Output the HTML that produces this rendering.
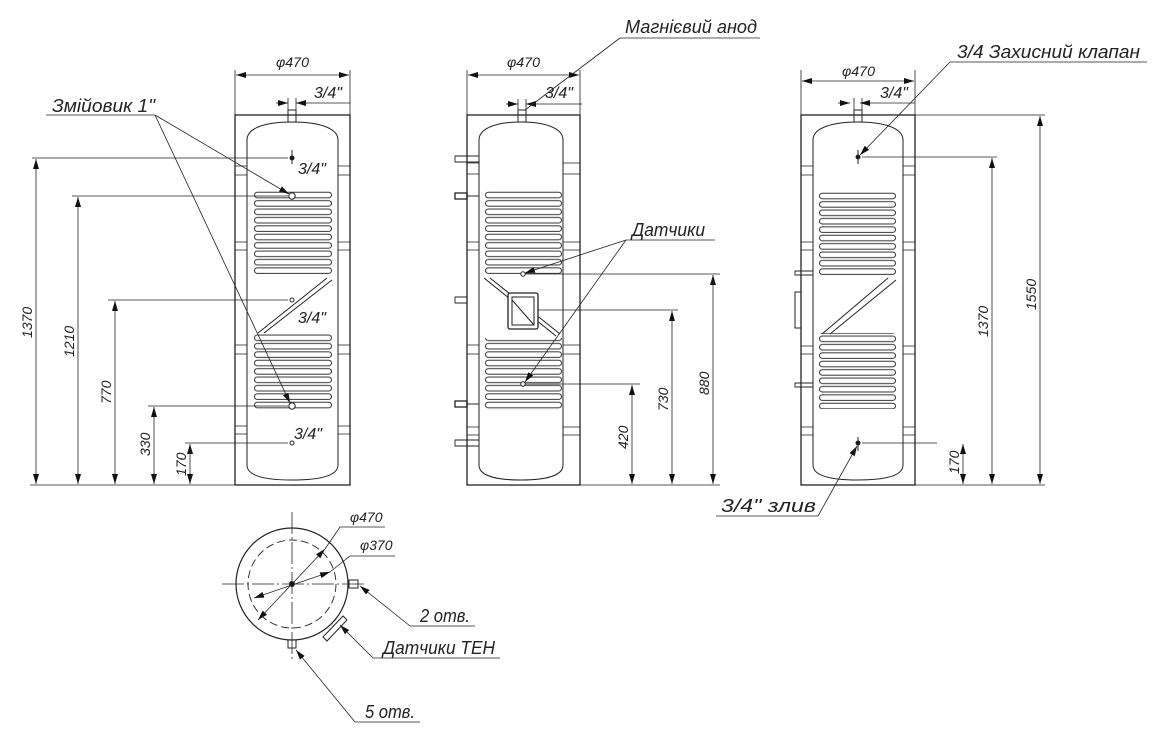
<!DOCTYPE html>
<html><head><meta charset="utf-8"><style>
html,body{margin:0;padding:0;background:#fff;}
svg{display:block}
text{font-family:"Liberation Sans Narrow","Liberation Sans",sans-serif;font-style:italic;fill:#222;}
</style></head><body>
<svg width="1157" height="742" viewBox="0 0 1157 742" xmlns="http://www.w3.org/2000/svg">
<defs>
<marker id="a" viewBox="0 0 10 6" refX="10" refY="3" markerWidth="10" markerHeight="6" markerUnits="userSpaceOnUse" orient="auto-start-reverse"><path d="M0,0 L10,3 L0,6z" fill="#111"/></marker>
<pattern id="c1" x="254" y="191" width="78" height="8.4" patternUnits="userSpaceOnUse"><rect x="0.5" y="1.2" width="77" height="5.6" rx="2.8" fill="none" stroke="#333" stroke-width="1"/></pattern>
<pattern id="c2" x="485" y="191" width="78" height="8.4" patternUnits="userSpaceOnUse"><rect x="0.5" y="1.2" width="76" height="5.6" rx="2.8" fill="none" stroke="#333" stroke-width="1"/></pattern>
<pattern id="c3" x="819" y="192" width="78" height="8.4" patternUnits="userSpaceOnUse"><rect x="0.5" y="1.2" width="76" height="5.6" rx="2.8" fill="none" stroke="#333" stroke-width="1"/></pattern>
</defs>
<g fill="none" stroke="#222" stroke-width="1">
<!-- VIEW 1 -->
<rect x="235" y="115" width="115" height="370" stroke-width="1.3"/>
<path d="M247,465 L247,140 C247,128 265,122 292,122 C319,122 338,128 338,140 L338,465 C338,476 319,480 292,480 C265,480 247,476 247,465Z"/>
<rect x="288" y="110" width="8" height="12"/>
<g stroke-width="0.8">
<path d="M235,166h12M235,175h12M338,166h12M338,175h12"/>
<path d="M235,242h12M235,250h12M338,242h12M338,250h12"/>
<path d="M235,345h12M235,354h12M338,345h12M338,354h12"/>
<path d="M235,426h12M235,434h12M338,426h12M338,434h12"/>
</g>
<rect x="254" y="191" width="78" height="84" fill="url(#c1)" stroke="none"/>
<rect x="254" y="333" width="78" height="76" fill="url(#c1)" stroke="none"/>
<path d="M327,278 L258,333 M332,280 L264,333"/>
<circle cx="292" cy="158" r="2" fill="#111"/><path d="M292,150v14"/>
<circle cx="292" cy="196" r="3.2" fill="#fff"/>
<circle cx="292" cy="300" r="2" fill="#fff"/>
<circle cx="292" cy="406" r="3.2" fill="#fff"/>
<circle cx="292" cy="443" r="2" fill="#fff"/>
<g stroke-width="0.8">
<path d="M235,70v45M350,70v45"/>
<path d="M236,75h113" marker-start="url(#a)" marker-end="url(#a)"/>
<path d="M276,103h12" marker-end="url(#a)"/><path d="M308,103h-12" marker-end="url(#a)"/><path d="M308,103h42"/><path d="M288,98v12M296,98v12"/>
<path d="M30,485h205"/>
<path d="M32,158h256M72,196h216M108,300h180M148,406h140M185,443h103"/>
<path d="M36,159v325" marker-start="url(#a)" marker-end="url(#a)"/>
<path d="M78,197v287" marker-start="url(#a)" marker-end="url(#a)"/>
<path d="M115,301v183" marker-start="url(#a)" marker-end="url(#a)"/>
<path d="M154,407v77" marker-start="url(#a)" marker-end="url(#a)"/>
<path d="M190,444v40" marker-start="url(#a)" marker-end="url(#a)"/>
<path d="M46,115h109"/>
<path d="M155,115L289,194" marker-end="url(#a)"/>
<path d="M155,115L290,403" marker-end="url(#a)"/>
</g>
<!-- VIEW 2 -->
<rect x="467" y="115" width="113" height="370" stroke-width="1.3"/>
<path d="M479,465 L479,140 C479,128 497,122 521,122 C545,122 563,128 563,140 L563,465 C563,476 545,480 521,480 C497,480 479,476 479,465Z"/>
<rect x="518" y="110" width="8" height="12"/>
<g stroke-width="0.8">
<path d="M563,163h17M563,174h17M563,242h17M563,250h17M563,345h17M563,354h17M563,427h17M563,435h17"/>
<path d="M467,163h12M467,174h12M467,242h12M467,250h12M467,345h12M467,354h12M467,427h12M467,435h12"/>
</g>
<path d="M455,156h24v6h-24zM455,440h24v6h-24zM455,297h12v6h-12z" stroke-width="0.9"/>
<rect x="455" y="193" width="12" height="6" stroke-width="1.3"/>
<rect x="455" y="401" width="12" height="6" stroke-width="1.3"/>
<path d="M467,196h12M467,404h12"/>
<rect x="485" y="191" width="78" height="84" fill="url(#c2)" stroke="none"/>
<rect x="485" y="338" width="78" height="72" fill="url(#c2)" stroke="none"/>
<path d="M484,278 L556,336 M490,278 L560,334"/>
<rect x="508" y="293" width="30" height="36" rx="2" fill="#fff" stroke-width="1.3"/>
<rect x="512" y="297" width="22" height="28"/>
<path d="M512,300L534,325"/>
<circle cx="523" cy="274" r="2.2" fill="#fff"/>
<circle cx="523" cy="384" r="2.2" fill="#fff"/>
<g stroke-width="0.8">
<path d="M467,70v45M580,70v45"/>
<path d="M468,75h111" marker-start="url(#a)" marker-end="url(#a)"/>
<path d="M506,104h12" marker-end="url(#a)"/><path d="M538,104h-12" marker-end="url(#a)"/><path d="M538,104h44"/><path d="M518,99v11M526,99v11"/>
<path d="M580,485h140"/>
<path d="M525,274h195M538,310h140M525,384h115"/>
<path d="M713,275v209" marker-start="url(#a)" marker-end="url(#a)"/>
<path d="M672,311v173" marker-start="url(#a)" marker-end="url(#a)"/>
<path d="M632,385v99" marker-start="url(#a)" marker-end="url(#a)"/>
<path d="M620,38h140"/>
<path d="M620,38L525,110"/>
<path d="M626,240h89"/>
<path d="M626,240L525,273" marker-end="url(#a)"/>
<path d="M626,240L525,382" marker-end="url(#a)"/>
</g>
<!-- VIEW 3 -->
<rect x="801" y="115" width="114" height="370" stroke-width="1.3"/>
<path d="M813,465 L813,140 C813,128 832,122 858,122 C884,122 903,128 903,140 L903,465 C903,476 884,480 858,480 C832,480 813,476 813,465Z"/>
<rect x="854" y="110" width="8" height="12"/>
<g stroke-width="0.8">
<path d="M801,166h12M801,175h12M903,166h12M903,175h12"/>
<path d="M801,242h12M801,250h12M903,242h12M903,250h12"/>
<path d="M801,346h12M801,354h12M903,346h12M903,354h12"/>
<path d="M801,427h12M801,435h12M903,427h12M903,435h12"/>
</g>
<path d="M795,271h18v4h-18zM795,383h18v4h-18z" stroke-width="0.9"/>
<rect x="795" y="292" width="6" height="36"/>
<rect x="819" y="192" width="78" height="84" fill="url(#c3)" stroke="none"/>
<rect x="819" y="333" width="78" height="76" fill="url(#c3)" stroke="none"/>
<path d="M888,278 L822,334 M896,280 L830,334"/>
<circle cx="858" cy="157" r="2" fill="#111"/><path d="M858,150v14"/>
<circle cx="858" cy="443" r="2" fill="#111"/><path d="M858,437v14"/>
<g stroke-width="0.8">
<path d="M801,70v45M915,70v45"/>
<path d="M802,81h112" marker-start="url(#a)" marker-end="url(#a)"/>
<path d="M838,103h12" marker-end="url(#a)"/><path d="M872,103h-12" marker-end="url(#a)"/><path d="M872,103h43"/><path d="M854,98v12M862,98v12"/>
<path d="M915,115h130M915,485h130M862,157h135M862,443h75"/>
<path d="M1040,116v368" marker-start="url(#a)" marker-end="url(#a)"/>
<path d="M992,158v326" marker-start="url(#a)" marker-end="url(#a)"/>
<path d="M963,444v40" marker-start="url(#a)" marker-end="url(#a)"/>
<path d="M950,62h197"/>
<path d="M950,62L860,155" marker-end="url(#a)"/>
<path d="M716,516h102"/>
<path d="M818,516L857,446" marker-end="url(#a)"/>
</g>
<!-- BOTTOM CIRCLE -->
<circle cx="292" cy="584" r="56" stroke-width="1.2"/>
<circle cx="292" cy="584" r="44" stroke-dasharray="8,4" stroke-width="0.9"/>
<path d="M222,584h145M292,512v150" stroke-dasharray="22,3,2,3" stroke-width="0.8"/>
<circle cx="292" cy="584" r="2.5" fill="#111"/>
<rect x="349" y="580" width="9" height="8"/>
<rect x="288" y="640" width="8" height="8"/>
<path d="M323,637 L343,616 L347,620 L327,641Z"/>
<g stroke-width="0.8">
<path d="M258,620L325,549" marker-start="url(#a)" marker-end="url(#a)"/>
<path d="M325,549L340,527h45"/>
<path d="M254,598L330,572" marker-start="url(#a)" marker-end="url(#a)"/>
<path d="M330,572L350,556h45"/>
<path d="M410,626h65"/><path d="M410,626L360,586" marker-end="url(#a)"/>
<path d="M373,658h127M373,658L340,625" marker-end="url(#a)"/>
<path d="M355,722h65M355,722L296,650" marker-end="url(#a)"/>
</g>
</g>
<g font-size="14">
<text x="52" y="112" font-size="18" textLength="103" lengthAdjust="spacingAndGlyphs">Змійовик 1"</text>
<text x="276" y="67" textLength="33" lengthAdjust="spacingAndGlyphs">φ470</text>
<text x="314" y="98" font-size="16">3/4"</text>
<text x="298" y="174" font-size="16">3/4"</text>
<text x="298" y="323" font-size="16">3/4"</text>
<text x="294" y="439" font-size="16">3/4"</text>
<text x="507" y="67" textLength="33" lengthAdjust="spacingAndGlyphs">φ470</text>
<text x="545" y="98" font-size="16">3/4"</text>
<text x="625" y="33" font-size="18" textLength="132" lengthAdjust="spacingAndGlyphs">Магнієвий анод</text>
<text x="632" y="236" font-size="18" textLength="73" lengthAdjust="spacingAndGlyphs">Датчики</text>
<text x="842" y="76" textLength="33" lengthAdjust="spacingAndGlyphs">φ470</text>
<text x="880" y="98" font-size="16">3/4"</text>
<text x="957" y="58" font-size="18" textLength="183" lengthAdjust="spacingAndGlyphs">3/4 Захисний клапан</text>
<text x="721" y="512" font-size="18" textLength="95" lengthAdjust="spacingAndGlyphs">3/4" злив</text>
<text x="350" y="522">φ470</text>
<text x="360" y="550">φ370</text>
<text x="420" y="622" font-size="18" textLength="50" lengthAdjust="spacingAndGlyphs">2 отв.</text>
<text x="383" y="654" font-size="18" textLength="112" lengthAdjust="spacingAndGlyphs">Датчики ТЕН</text>
<text x="365" y="718" font-size="18" textLength="50" lengthAdjust="spacingAndGlyphs">5 отв.</text>
<g font-size="14">
<text transform="translate(32,338) rotate(-90)">1370</text>
<text transform="translate(74,357) rotate(-90)">1210</text>
<text transform="translate(111,404) rotate(-90)">770</text>
<text transform="translate(150,456) rotate(-90)">330</text>
<text transform="translate(186,476) rotate(-90)">170</text>
<text transform="translate(628,449) rotate(-90)">420</text>
<text transform="translate(668,411) rotate(-90)">730</text>
<text transform="translate(709,395) rotate(-90)">880</text>
<text transform="translate(959,474) rotate(-90)">170</text>
<text transform="translate(988,337) rotate(-90)">1370</text>
<text transform="translate(1036,310) rotate(-90)">1550</text>
</g>
</g>
</svg>
</body></html>
